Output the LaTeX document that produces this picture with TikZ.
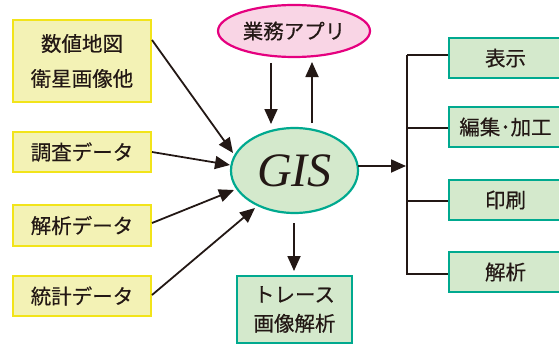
\documentclass[tikz,border=0pt]{standalone}
\usepackage{fontspec}
\setmainfont{Liberation Serif}
\newfontfamily\jp[FakeBold=0.4]{Noto Sans CJK JP}
\usetikzlibrary{arrows.meta,shapes.geometric}
\definecolor{yfill}{HTML}{F3F2B5}
\definecolor{yline}{HTML}{F2E41A}
\definecolor{pfill}{HTML}{F9D5E5}
\definecolor{pline}{HTML}{E5007F}
\definecolor{gfill}{HTML}{D4E9CC}
\definecolor{gline}{HTML}{00A98F}
\definecolor{ink}{HTML}{231815}
\begin{document}
\begin{tikzpicture}[x=1pt,y=-1pt,
  lbl/.style={font=\jp\fontsize{20.5}{35}\selectfont, text=ink, inner sep=0pt, align=center},
  ybox/.style={lbl, draw=yline, fill=yfill, line width=2.2pt, minimum width=138pt},
  gbox/.style={lbl, draw=gline, fill=gfill, line width=2.2pt},
  arr/.style={draw=ink, line width=1.8pt, -{Triangle[length=15pt,width=13pt]}},
  branch/.style={draw=ink, line width=1.6pt}
]
\useasboundingbox (0,0) rectangle (559,345);
% left data boxes
\node[ybox, minimum height=82pt] (y1) at (82,61) {数値地図\\衛星画像他};
\node[ybox, minimum height=40pt] (y2) at (82,152) {調査データ};
\node[ybox, minimum height=41pt] (y3) at (82,225.5) {解析データ};
\node[ybox, minimum height=40pt] (y4) at (82,296) {統計データ};
% application ellipse
\node[lbl, ellipse, draw=pline, fill=pfill, line width=2.2pt, minimum width=152pt, minimum height=52pt] (app) at (294,31) {業務アプリ};
% GIS
\node[ellipse, draw=gline, fill=gfill, line width=2.2pt, minimum width=127pt, minimum height=85pt, inner sep=0pt,
  font=\fontsize{48}{48}\selectfont\itshape, text=ink] (gis) at (294.5,170.5) {GIS};
% trace box
\node[gbox, font=\jp\fontsize{20.5}{29}\selectfont, minimum width=115pt, minimum height=67pt] (tr) at (294.5,309.5) {トレース\\画像解析};
% right boxes
\node[gbox, minimum width=113pt, minimum height=40pt] (r1) at (505.5,58) {表示};
\node[gbox, minimum width=113pt, minimum height=40pt] (r2) at (505.5,127) {編集･加工};
\node[gbox, minimum width=113pt, minimum height=40pt] (r3) at (505.5,200) {印刷};
\node[gbox, minimum width=113pt, minimum height=40pt] (r4) at (505.5,272) {解析};
% coordinates
\coordinate (s1) at (152,40);   \coordinate (t1) at (233,153);
\coordinate (s2) at (152,152);  \coordinate (t2) at (230,165);
\coordinate (s3) at (152,223);  \coordinate (t3) at (234,190);
\coordinate (s4) at (152,295);  \coordinate (t4) at (255,208);
\coordinate (ad1) at (271,63);  \coordinate (ad2) at (271,124);
\coordinate (au1) at (312,123); \coordinate (au2) at (312,62);
\coordinate (gd1) at (294,223); \coordinate (gd2) at (294,271);
\coordinate (go1) at (358,166); \coordinate (go2) at (406,166);
\coordinate (busT) at (407,55); \coordinate (busB) at (407,275);
% connectors
\draw[arr] (s1) -- (t1);
\draw[arr] (s2) -- (t2);
\draw[arr] (s3) -- (t3);
\draw[arr] (s4) -- (t4);
\draw[arr] (ad1) -- (ad2);
\draw[arr] (au1) -- (au2);
\draw[arr] (gd1) -- (gd2);
\draw[arr] (go1) -- (go2);
\draw[branch] (busT) -- (busB);
\draw[branch] (busT) -- (busT -| r1.west);
\draw[branch] (407,128) -- (r2.west |- 0,128);
\draw[branch] (407,201) -- (r3.west |- 0,201);
\draw[branch] (busB |- 0,274) -- (r4.west |- 0,274);
\end{tikzpicture}
\end{document}
